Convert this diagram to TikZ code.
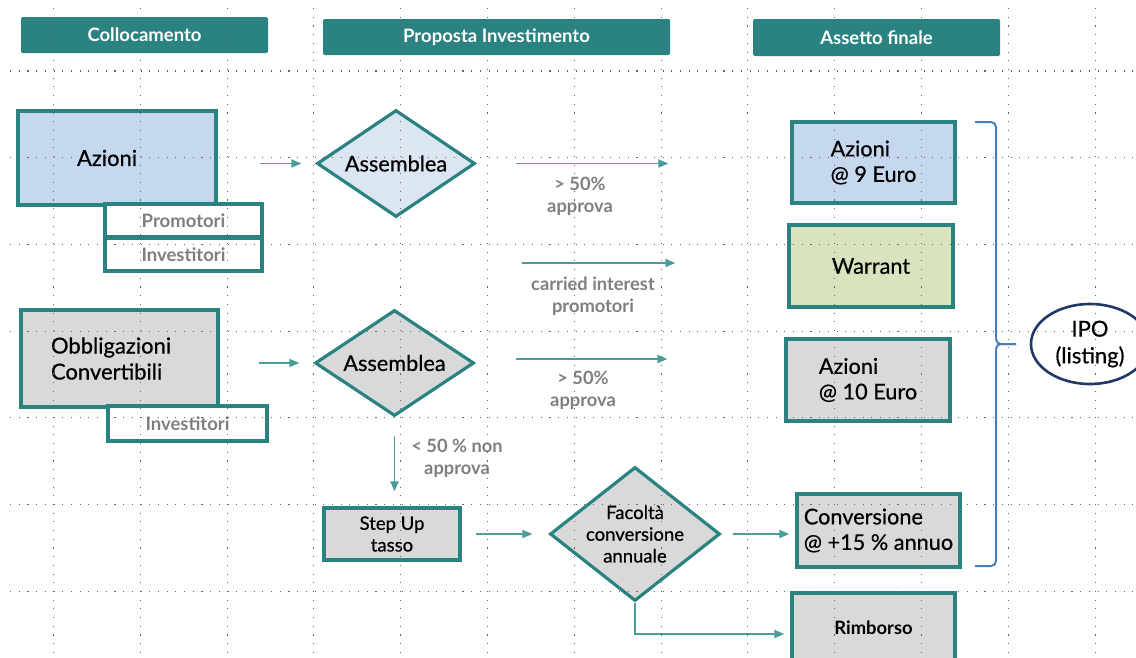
\documentclass[tikz,border=0pt]{standalone}
\usepackage{fontspec}
\setmainfont{Lato}
\newfontfamily\mdf{Lato}[FakeBold=0.6]
\usepackage{xcolor}
\usetikzlibrary{shapes.geometric,
	arrows.meta,
	calc,
	positioning}
\definecolor{tl}{RGB}{42,131,129}
\definecolor{tlar}{RGB}{74,157,154}
\definecolor{azb}{RGB}{198,216,240}
\definecolor{azd}{RGB}{220,230,242}
\definecolor{grf}{RGB}{217,217,217}
\definecolor{vrd}{RGB}{215,228,189}
\definecolor{txg}{RGB}{127,127,127}
\definecolor{brb}{RGB}{74,126,187}
\definecolor{nvy}{RGB}{31,56,100}
\tikzstyle{hd}=[fill=tl, rounded corners=1.5pt, text=white, inner sep=0,
		font=\fontsize{18.5}{22}\selectfont\bfseries]
\tikzstyle{bx}=[draw=tl, line width=3.2pt, inner sep=0, align=left,
		font=\mdf\fontsize{21.7}{25.5}\selectfont]
\tikzstyle{sub}=[draw=tl, line width=3.2pt, fill=white, inner sep=0, text=txg,
		font=\fontsize{18.5}{22}\selectfont\bfseries]
\tikzstyle{dm}=[draw=tl, line width=3.2pt, diamond, inner sep=0, align=center]
\tikzstyle{lb}=[text=txg, align=center, font=\fontsize{18.3}{21.7}\selectfont\bfseries]
\tikzstyle{ar}=[draw=tlar, line width=1.8pt, -{Triangle[length=10pt, width=8pt]}]
\tikzstyle{grd}=[black!60, line width=1.1pt, dash pattern=on 1.1pt off 7.6pt]
\tikzstyle{brc}=[draw=brb, line width=2pt, rounded corners=5pt]
\begin{document}
\begin{tikzpicture}[x=1pt, y=-1pt]
            \useasboundingbox (0,0) rectangle (1136,657);
            \clip (0,0) rectangle (1136,657);
            \node[hd, minimum width=247pt, minimum height=36pt] (h1) at (144.5,35) {Collocamento};
            \node[hd, minimum width=347pt, minimum height=36pt] (h2) at (496.5,37) {Proposta Investimento};
            \node[hd, minimum width=247pt, minimum height=37pt] (h3) at (876.5,37.5) {Assetto finale};

            \node[bx, fill=azb, minimum width=198pt, minimum height=94pt, text width=80pt, inner xsep=59pt,
                font=\mdf\fontsize{22}{26}\selectfont] (az) at (117,158) {Azioni};
            \node[sub, minimum width=157pt, minimum height=33pt] (pr) at (183.5,220.5) {Promotori};
            \node[sub, minimum width=157pt, minimum height=33pt] (in1) at (183.5,254.5) {Investitori};
            \node[bx, fill=grf, minimum width=197pt, minimum height=97pt, text width=137pt, inner xsep=30pt,
                font=\mdf\fontsize{22}{26}\selectfont] (ob) at (119.5,358.5) {Obbligazioni\\Convertibili};
            \node[sub, minimum width=159pt, minimum height=35pt] (in2) at (187.5,423.5) {Investitori};

            \node[dm, fill=azd, aspect=1.48, minimum width=158pt, minimum height=107pt,
                font=\mdf\fontsize{21.7}{24}\selectfont] (as1) at (396,163.5) {Assemblea};
            \node[dm, fill=grf, aspect=1.48, minimum width=159pt, minimum height=106pt,
                font=\mdf\fontsize{21.7}{24}\selectfont] (as2) at (394.5,363) {Assemblea};
            \node[bx, fill=grf, minimum width=136pt, minimum height=52pt, align=center,
                font=\mdf\fontsize{18.5}{21.7}\selectfont] (su) at (392,534) {Step Up\\tasso};
            \node[dm, fill=grf, aspect=1.27, inner sep=-6pt, minimum width=170pt, minimum height=134pt,
                font=\mdf\fontsize{18.5}{21.7}\selectfont] (fc) at (635,534) {Facoltà\\conversione\\annuale};

            \node[bx, fill=azb, minimum width=163pt, minimum height=81pt] (az9) at (873.5,162.5) {Azioni\\@ 9 Euro};
            \node[bx, fill=vrd, minimum width=164pt, minimum height=82pt] (wr) at (871,266) {Warrant};
            \node[bx, fill=grf, minimum width=164pt, minimum height=82pt] (az10) at (868,380) {Azioni\\@ 10 Euro};
            \node[bx, fill=grf, minimum width=163pt, minimum height=73pt] (cv) at (878.5,530.5) {Conversione\\@ +15 \% annuo};
            \node[bx, fill=grf, minimum width=163pt, minimum height=70pt,
                font=\fontsize{18.4}{21}\selectfont\bfseries] (rb) at (873.5,628) {Rimborso};
            \node[ellipse, draw=nvy, line width=2.6pt, minimum width=118pt, minimum height=80pt, inner sep=0,
                align=center, font=\mdf\fontsize{22}{26.7}\selectfont] (ipo) at (1090,344) {IPO\\(listing)};

            \node[lb] (l1) at (580,196) {> 50\%\\approva};
            \node[lb] (l2) at (593,296) {carried interest\\promotori};
            \node[lb] (l3) at (583,390) {> 50\%\\approva};
            \node[lb] (l4) at (457,458) {< 50 \% non\\approva};
            \coordinate (ci) at (522,263);

            \draw[ar, shorten <=42pt, shorten >=14pt] (az.east |- as1.west) -- (as1.west);
            \draw[ar, shorten <=39pt, shorten >=122pt] (as1.east) -- (as1.east -| az9.west);
            \draw[ar, shorten >=112pt] (ci) -- (ci -| wr.west);
            \draw[ar, shorten <=39pt, shorten >=14pt] (ob.east |- as2.west) -- (as2.west);
            \draw[ar, shorten <=40pt, shorten >=117pt] ([yshift=4pt]as2.east) -- ([yshift=4pt]as2.east -| az10.west);
            \draw[ar, shorten <=18pt, shorten >=15pt] (as2.south) -- (as2.south |- su.north);
            \draw[ar, shorten <=14pt, shorten >=16pt] (su.east) -- (fc.west);
            \draw[ar, shorten <=11pt, shorten >=6pt] (fc.east) -- (fc.east -| cv.west);
            \draw[ar, shorten >=6pt] (fc.south) |- ([yshift=-6pt]rb.west);

            \draw[brc] (975,122) -| (996,344) -- (1016,344);
            \draw[brc] (1016,344) -| (996,566) -- (975,566);

            \draw[grd] (10,71) -- (1136,71) (10,157.7) -- (1136,157.7) (10,244.4) -- (1136,244.4)
                (10,331.1) -- (1136,331.1) (10,417.8) -- (1136,417.8) (10,504.5) -- (1136,504.5)
                (10,591.2) -- (1136,591.2);
            \draw[grd] (53.5,8) -- (53.5,657) (140.3,8) -- (140.3,657) (227.1,8) -- (227.1,657)
                (313.9,8) -- (313.9,657) (400.7,8) -- (400.7,657) (487.5,8) -- (487.5,657)
                (574.3,8) -- (574.3,657) (661.1,8) -- (661.1,657) (747.9,8) -- (747.9,657)
                (834.7,8) -- (834.7,657) (921.5,8) -- (921.5,657) (1008.3,8) -- (1008.3,657)
                (1095.1,8) -- (1095.1,657);
        \end{tikzpicture}
\end{document}
